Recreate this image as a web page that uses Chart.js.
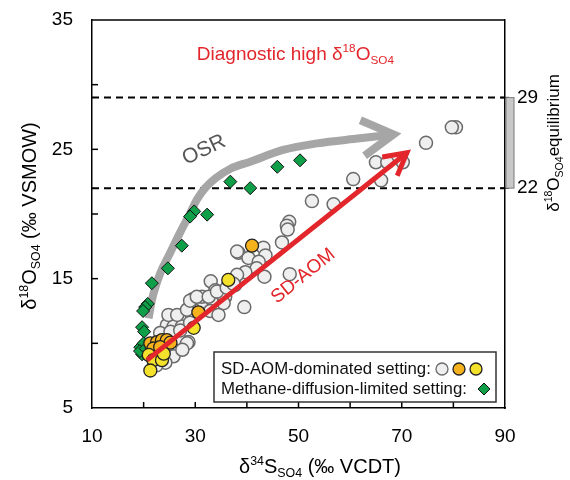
<!DOCTYPE html>
<html>
<head>
<meta charset="utf-8">
<script src="https://cdn.jsdelivr.net/npm/chart.js@4/dist/chart.umd.min.js"></script>
<style>
html,body{margin:0;padding:0;background:#fff}
#wrap{width:570px;height:480px}
</style>
</head>
<body>
<div id="wrap"><canvas id="c"></canvas></div>
<script>
// SD-AOM-dominated, grey circles
let grayX=[80.5,79.7,74.7,65.0,67.2,70.2,60.6,66.0,52.6,56.8,48.2,47.75,47.9,46.8,48.3,43.2,43.6,38.4,40.3,42.3,41.9,39.7,43.4,33.0,33.9,35.8,37.7,29.5,31.6,33.2,35.5,39.5,32.9,34.5,31.3,34.8,25.2,27.1,24.5,25.8,27.4,28.7,26.8,23.2,25.8,24.2,24.8,26.5,28.4,29.0,30.3,32.6,28.4,25.2,27.1,29.0,34.2,38.1,36.1,37.4,38.1,22.5,27.5]
let grayY=[26.7,26.7,25.5,24.0,24.0,24.0,22.7,22.6,21.0,20.75,19.4,19.1,18.8,17.8,15.35,17.4,16.8,17.0,16.6,16.3,15.8,15.5,15.15,14.8,14.1,13.6,14.5,13.4,13.2,13.4,13.1,12.8,12.5,12.2,13.6,13.9,11.9,11.8,11.4,11.3,11.3,10.1,10.4,10.8,9.0,8.5,12.2,12.2,12.6,13.3,13.6,13.6,10.0,10.9,11.0,11.6,14.0,15.3,14.3,14.6,17.1,8.3,9.5]
// SD-AOM-dominated, orange
let orangeX=[41.0,30.6,21.3,22.6,23.55,24.5,25.2,21.9,23.2]
let orangeY=[17.55,12.4,10.0,10.1,10.25,10.25,10.05,9.6,9.7]
// SD-AOM-dominated, yellow
let yellowX=[36.4,29.7,21.0,21.9,23.55,23.9,21.3]
let yellowY=[14.9,11.2,9.1,8.7,8.7,9.2,7.9]
// methane-diffusion-limited, green diamonds
let greenX=[50.3,45.9,40.65,36.8,32.3,29.8,29.0,27.4,24.7,21.6,20.8,20.3,19.9,19.7,20.1,19.35,20.0,19.7,19.3,20.4]
let greenY=[24.15,23.65,22.0,22.5,19.95,20.2,19.8,17.55,15.8,14.65,13.05,12.8,12.5,11.25,10.9,9.7,10.0,9.15,9.4,9.6]

// trend arrows
let osrX=[20.96,21.6,23.2,25.1,27.1,29.0,30.3,31.9,33.9,36.8,40.65,47.0,53.6,61.9,68.4]
let osrY=[11.93,13.35,15.4,16.96,18.6,20.05,21.1,22.0,22.75,23.5,24.04,24.95,25.46,25.85,26.16]
let sdX=[20.65,71.0]
let sdY=[8.7,24.74]

// equilibrium range
let eqLines=[22,29]

let xTicks=[10,30,50,70,90]
let yTicks=[5,15,25,35]

const FONT='"Liberation Sans", Arial, sans-serif'

function pts(xs,ys){
return xs.map((x,i)=>({x:x,y:ys[i]}))
}

function richText(ctx,parts,cx,cy,rot,size,color){
ctx.save()
ctx.translate(cx,cy)
ctx.rotate(rot)
ctx.fillStyle=color
ctx.textBaseline="alphabetic"
let w=0
parts.forEach(p=>{
ctx.font=(p[1]?size*0.62:size)+"px "+FONT
p.w=ctx.measureText(p[0]).width
w+=p.w
})
let x=-w/2
parts.forEach(p=>{
ctx.font=(p[1]?size*0.62:size)+"px "+FONT
let dy=0
if(p[1]=="sup")dy=-size*0.42
if(p[1]=="sub")dy=size*0.2
ctx.fillText(p[0],x,size*0.36+dy)
x+=p.w
})
ctx.restore()
}

function chevron(ctx,tx,ty,ang,len,spread,width,color){
ctx.save()
ctx.strokeStyle=color
ctx.lineWidth=width
ctx.lineCap="butt"
ctx.lineJoin="miter"
ctx.beginPath()
ctx.moveTo(tx-len*Math.cos(ang-spread),ty-len*Math.sin(ang-spread))
ctx.lineTo(tx,ty)
ctx.lineTo(tx-len*Math.cos(ang+spread),ty-len*Math.sin(ang+spread))
ctx.stroke()
ctx.restore()
}

const deco={
id:"deco",
beforeDatasetsDraw(c){
let ctx=c.ctx,a=c.chartArea,y=c.scales.y
ctx.save()
ctx.setLineDash([7,5])
ctx.lineWidth=2
ctx.strokeStyle="#000"
eqLines.forEach(v=>{
let py=y.getPixelForValue(v)
ctx.beginPath()
ctx.moveTo(a.left,py)
ctx.lineTo(a.right,py)
ctx.stroke()
})
ctx.restore()
},
afterDatasetsDraw(c){
let ctx=c.ctx,x=c.scales.x,y=c.scales.y

// arrow heads
let m=c.getDatasetMeta(4).data
let p1=m[m.length-2],p2=m[m.length-1]
chevron(ctx,p2.x,p2.y,Math.atan2(p2.y-p1.y,p2.x-p1.x),36,0.52,8,"#a6a6a6")

let r=c.getDatasetMeta(0).data
chevron(ctx,r[1].x,r[1].y,Math.atan2(r[1].y-r[0].y,r[1].x-r[0].x),25,0.5,5,"#e2262b")

// labels
ctx.save()
ctx.fillStyle="#555"
ctx.font="21px "+FONT
ctx.textAlign="center"
ctx.textBaseline="middle"
ctx.translate(x.getPixelForValue(31.7),y.getPixelForValue(24.95))
ctx.rotate(-0.44)
ctx.fillText("OSR",0,0)
ctx.restore()

ctx.save()
ctx.fillStyle="#e2262b"
ctx.font="19px "+FONT
ctx.textAlign="center"
ctx.textBaseline="middle"
ctx.translate(x.getPixelForValue(50.9),y.getPixelForValue(15.2))
ctx.rotate(-0.68)
ctx.fillText("SD-AOM",0,0)
ctx.restore()

richText(ctx,[["Diagnostic high δ"],["18","sup"],["O"],["SO4","sub"]],x.getPixelForValue(49.4),y.getPixelForValue(32.4),0,19,"#e2262b")
},
afterDraw(c){
let ctx=c.ctx,a=c.chartArea,x=c.scales.x,y=c.scales.y
ctx.save()
ctx.strokeStyle="#000"
ctx.lineWidth=1.5
// top frame
ctx.beginPath()
ctx.moveTo(a.left,a.top)
ctx.lineTo(a.right,a.top)
ctx.stroke()
// inward ticks
for(let v=20;v<90;v+=10){
let px=x.getPixelForValue(v)
ctx.beginPath()
ctx.moveTo(px,a.bottom)
ctx.lineTo(px,a.bottom-6)
ctx.stroke()
}
for(let v=10;v<35;v+=5){
let py=y.getPixelForValue(v)
ctx.beginPath()
ctx.moveTo(a.left,py)
ctx.lineTo(a.left+6,py)
ctx.stroke()
}
eqLines.forEach(v=>{
let py=y.getPixelForValue(v)
ctx.beginPath()
ctx.moveTo(a.right-4,py)
ctx.lineTo(a.right+4,py)
ctx.stroke()
})
// equilibrium bar
let t=y.getPixelForValue(29),b=y.getPixelForValue(22)
ctx.fillStyle="#c8c8c8"
ctx.strokeStyle="#7a7a7a"
ctx.lineWidth=1
ctx.fillRect(a.right+1,t,8,b-t)
ctx.strokeRect(a.right+1,t,8,b-t)
ctx.restore()

// axis titles
richText(ctx,[["δ"],["18","sup"],["O"],["SO4","sub"],[" (‰ VSMOW)"]],29,216,-Math.PI/2,20,"#000")
richText(ctx,[["δ"],["34","sup"],["S"],["SO4","sub"],[" (‰ VCDT)"]],320,466,0,20,"#000")
richText(ctx,[["δ"],["18","sup"],["O"],["SO4","sub"],["equilibrium"]],553,143,-Math.PI/2,17,"#000")

// legend
ctx.save()
ctx.fillStyle="#fff"
ctx.strokeStyle="#333"
ctx.lineWidth=1.5
ctx.fillRect(214,352,282,50)
ctx.strokeRect(214,352,282,50)
ctx.fillStyle="#111"
ctx.font="16.8px "+FONT
ctx.textBaseline="middle"
ctx.fillText("SD-AOM-dominated setting:",221,369)
ctx.fillText("Methane-diffusion-limited setting:",221,389)
let sw=[["#efefef","#6b6b6b"],["#f5b21d","#222"],["#f3e12b","#222"]]
sw.forEach((s,i)=>{
ctx.beginPath()
ctx.arc(442+i*17,369,6,0,Math.PI*2)
ctx.fillStyle=s[0]
ctx.fill()
ctx.strokeStyle=s[1]
ctx.lineWidth=1.3
ctx.stroke()
})
ctx.beginPath()
ctx.moveTo(484,383)
ctx.lineTo(490,389)
ctx.lineTo(484,395)
ctx.lineTo(478,389)
ctx.closePath()
ctx.fillStyle="#0e9f48"
ctx.fill()
ctx.strokeStyle="#111"
ctx.lineWidth=1
ctx.stroke()
ctx.restore()
}
}

new Chart(document.getElementById("c"),{
type:"scatter",
data:{
datasets:[
{label:"SD-AOM",data:pts(sdX,sdY),showLine:true,borderColor:"#e2262b",borderWidth:5,pointRadius:0,order:0},
{label:"yellow",data:pts(yellowX,yellowY),pointStyle:"circle",pointRadius:6.5,backgroundColor:"#f3e12b",borderColor:"#222",borderWidth:1.3,order:1},
{label:"orange",data:pts(orangeX,orangeY),pointStyle:"circle",pointRadius:6.5,backgroundColor:"#f5b21d",borderColor:"#222",borderWidth:1.3,order:2},
{label:"green",data:pts(greenX,greenY),pointStyle:"rectRot",pointRadius:6.5,backgroundColor:"#0e9f48",borderColor:"#111",borderWidth:1,order:3},
{label:"OSR",data:pts(osrX,osrY),showLine:true,borderColor:"#a6a6a6",borderWidth:8,cubicInterpolationMode:"monotone",pointRadius:0,order:5},
{label:"gray",data:pts(grayX,grayY),pointStyle:"circle",pointRadius:6.5,backgroundColor:"#efefef",borderColor:"#6b6b6b",borderWidth:1.5,order:4}
]
},
options:{
responsive:true,
maintainAspectRatio:false,
animation:false,
layout:{padding:{top:20,left:0,right:0,bottom:0}},
plugins:{legend:{display:false},tooltip:{enabled:false}},
scales:{
x:{
type:"linear",min:10,max:90,
afterFit(s){s.height=72;s.paddingLeft=0;s.paddingRight=0},
afterBuildTicks(s){s.ticks=xTicks.map(v=>({value:v}))},
grid:{display:false,drawTicks:false},
border:{display:true,color:"#000",width:1.5},
ticks:{color:"#000",font:{family:FONT,size:19},padding:17,autoSkip:false,maxRotation:0}
},
y:{
type:"linear",min:5,max:35,
afterFit(s){s.width=92;s.paddingTop=0;s.paddingBottom=0},
afterBuildTicks(s){s.ticks=yTicks.map(v=>({value:v}))},
grid:{display:false,drawTicks:false},
border:{display:true,color:"#000",width:1.5},
ticks:{color:"#000",font:{family:FONT,size:19},padding:19,autoSkip:false}
},
y2:{
type:"linear",position:"right",min:5,max:35,
afterFit(s){s.width=65;s.paddingTop=0;s.paddingBottom=0},
afterBuildTicks(s){s.ticks=eqLines.map(v=>({value:v}))},
grid:{display:false,drawTicks:false},
border:{display:true,color:"#000",width:1.5},
ticks:{color:"#000",font:{family:FONT,size:19},padding:12,autoSkip:false}
}
}
},
plugins:[deco]
})
</script>
</body>
</html>
